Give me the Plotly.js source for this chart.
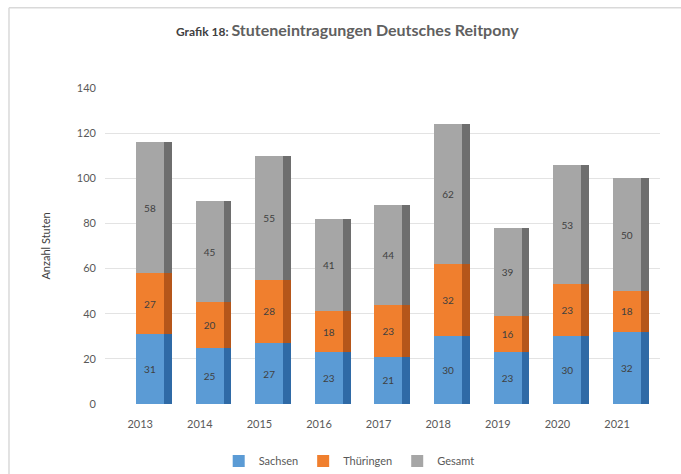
<!DOCTYPE html>
<html>
<head>
<meta charset="utf-8">
<script src="https://cdn.plot.ly/plotly-3.0.1.min.js"></script>
<style>html,body{margin:0;padding:0;background:#fff;}#chart{width:681px;height:474px;}</style>
</head>
<body>
<div id="chart"></div>
<script>
const years = ['2013','2014','2015','2016','2017','2018','2019','2020','2021'];
const sachsen = [31, 25, 27, 23, 21, 30, 23, 30, 32];
const thueringen = [27, 20, 28, 18, 23, 32, 16, 23, 18];
const gesamt = [58, 45, 55, 41, 44, 62, 39, 53, 50];
const yTicks = [0, 20, 40, 60, 80, 100, 120, 140];

const FONT = 'Lato, "Open Sans", sans-serif';
const frontWidth = 0.47, frontOffset = -0.07;
const sideWidth = 0.13, sideOffset = frontOffset + frontWidth;

const series = [
  {name: 'Sachsen', values: sachsen, color: '#5b9bd5', side: '#2f6aa6'},
  {name: 'Thüringen', values: thueringen, color: '#f07f2e', side: '#b5561a'},
  {name: 'Gesamt', values: gesamt, color: '#a6a6a6', side: '#6e6e6e'}
];

const traces = [];
series.forEach(s => {
  traces.push({
    type: 'bar', name: s.name, x: years, y: s.values,
    text: s.values.map(String), textposition: 'inside', insidetextanchor: 'middle',
    textfont: {family: FONT, size: 10, color: '#404040'},
    width: frontWidth, offset: frontOffset,
    marker: {color: s.color, line: {width: 0}},
    hoverinfo: 'skip'
  });
});
series.forEach(s => {
  traces.push({
    type: 'bar', name: s.name + ' side', x: years, y: s.values, xaxis: 'x2',
    width: sideWidth, offset: sideOffset, showlegend: false,
    marker: {color: s.side, line: {width: 0}}, hoverinfo: 'skip'
  });
});

const xr = [-0.59, 8.72];
const layout = {
  width: 681, height: 474,
  paper_bgcolor: '#ffffff', plot_bgcolor: '#ffffff',
  margin: {l: 105, r: 21, t: 88, b: 70, autoexpand: false},
  barmode: 'stack',
  title: {
    text: '<span style="font-size:12px;color:#404040">Grafik 18: </span>Stuteneintragungen Deutsches Reitpony',
    font: {family: FONT, size: 16, color: '#606060', weight: 'bold'},
    x: 0.51, xanchor: 'center', y: 0.935, yanchor: 'middle'
  },
  xaxis: {
    type: 'category', range: xr, showgrid: false, zeroline: false, showline: false,
    ticks: '', ticklabelstandoff: 12,
    tickfont: {family: FONT, size: 11, color: '#595959'}, fixedrange: true
  },
  xaxis2: {
    type: 'category', range: xr, overlaying: 'x', matches: 'x', visible: false
  },
  yaxis: {
    range: [0, 140], tickvals: yTicks, showgrid: true, gridcolor: '#e3e3e3', gridwidth: 1,
    zeroline: false, showline: false, ticks: '', ticklabelstandoff: 8,
    tickfont: {family: FONT, size: 11, color: '#595959'},
    title: {text: 'Anzahl Stuten', font: {family: FONT, size: 11, color: '#404040'}, standoff: 24}
  },
  legend: {
    orientation: 'h', x: 0.44, xanchor: 'center', y: -0.18, yanchor: 'middle',
    font: {family: FONT, size: 11, color: '#595959'}, traceorder: 'normal',
    itemwidth: 30
  },
  shapes: [
    {type: 'line', xref: 'paper', yref: 'paper', x0: -0.173, x1: 1.05, y0: 1.254, y1: 1.254, line: {color: '#d9d9d9', width: 1.5}},
    {type: 'line', xref: 'paper', yref: 'paper', x0: -0.173, x1: -0.173, y0: 1.254, y1: -0.23, line: {color: '#d9d9d9', width: 1.5}}
  ],
  showlegend: true
};
Plotly.newPlot('chart', traces, layout, {displayModeBar: false, staticPlot: true});
</script>
</body>
</html>
